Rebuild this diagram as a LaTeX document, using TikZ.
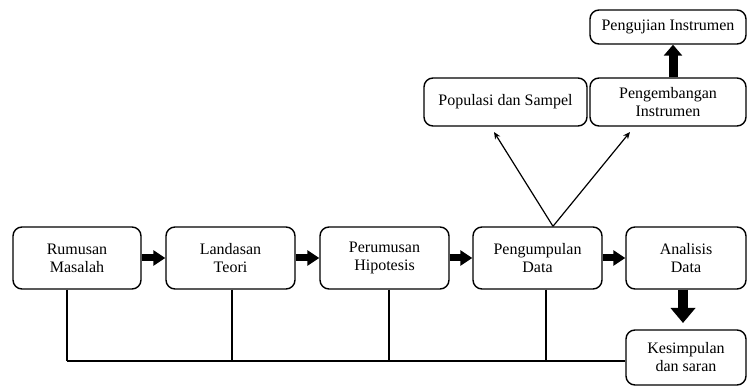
\documentclass[tikz,border=0pt]{standalone}
\usepackage{fontspec}
\setmainfont{Liberation Serif}
\usetikzlibrary{arrows.meta}
\begin{document}
\begin{tikzpicture}[x=1pt,y=-1pt,
  box/.style={draw, line width=1.4pt, rounded corners=9pt, align=center, inner sep=0pt,
    font=\fontsize{16}{18}\selectfont},
  fat/.style={line width=7pt, -{Triangle[length=12pt,width=15pt]}},
  thin/.style={line width=1.2pt, -{Stealth[length=7pt,width=6pt]}},
  conn/.style={line width=1.2pt}]
\useasboundingbox (0,0) rectangle (747,387);
\node[box, minimum width=128pt, minimum height=62pt] (rum) at (77,258) {Rumusan\\Masalah};
\node[box, minimum width=129pt, minimum height=62pt] (lan) at (230.5,258) {Landasan\\Teori};
\node[box, minimum width=129pt, minimum height=62pt] (per) at (384.5,258) {Perumusan\\Hipotesis};
\node[box, minimum width=129pt, minimum height=62pt] (pen) at (537.5,258) {Pengumpulan\\Data};
\node[box, minimum width=120pt, minimum height=62pt] (ana) at (686,258) {Analisis\\Data};
\node[box, minimum width=120pt, minimum height=55pt] (kes) at (686,357.5) {\\[-8.5pt]Kesimpulan\\dan saran};
\node[box, minimum width=163pt, minimum height=48pt] (pop) at (505.5,102) {Populasi dan Sampel};
\node[box, minimum width=156pt, minimum height=48pt] (pgb) at (668,102) {Pengembangan\\Instrumen};
\node[box, minimum width=156pt, minimum height=34pt] (pgj) at (668,27) {Pengujian Instrumen};
% horizontal fat arrows
\draw[fat] (rum.east) -- (lan.west);
\draw[fat] (lan.east) -- (per.west);
\draw[fat] (per.east) -- (pen.west);
\draw[fat] (pen.east) -- (ana.west);
% vertical fat arrows
\draw[line width=10pt, -{Triangle[length=15pt,width=24pt]}] ([xshift=-3pt]ana.south) -- ([xshift=-3pt]ana.south |- 0,323);
\draw[line width=9pt, -{Triangle[length=11pt,width=18pt]}] ([xshift=5pt]pgb.north) -- ([xshift=5pt]pgj.south);
% diagonal arrows
\coordinate (top) at ([xshift=15.5pt]pen.north);
\coordinate (t1) at (494,132);
\coordinate (t2) at (630,132);
\draw[thin] (top) -- (t1);
\draw[thin] (top) -- (t2);
% feedback lines
\coordinate (bl) at (67,361);
\draw[conn] (bl) -- (kes.west |- bl);
\draw[conn] (rum.south -| bl) -- (bl);
\draw[conn] ([xshift=1.5pt]lan.south) -- ([xshift=1.5pt]lan.south |- bl);
\draw[conn] ([xshift=4.5pt]per.south) -- ([xshift=4.5pt]per.south |- bl);
\draw[conn] ([xshift=8.5pt]pen.south) -- ([xshift=8.5pt]pen.south |- bl);
\end{tikzpicture}
\end{document}
